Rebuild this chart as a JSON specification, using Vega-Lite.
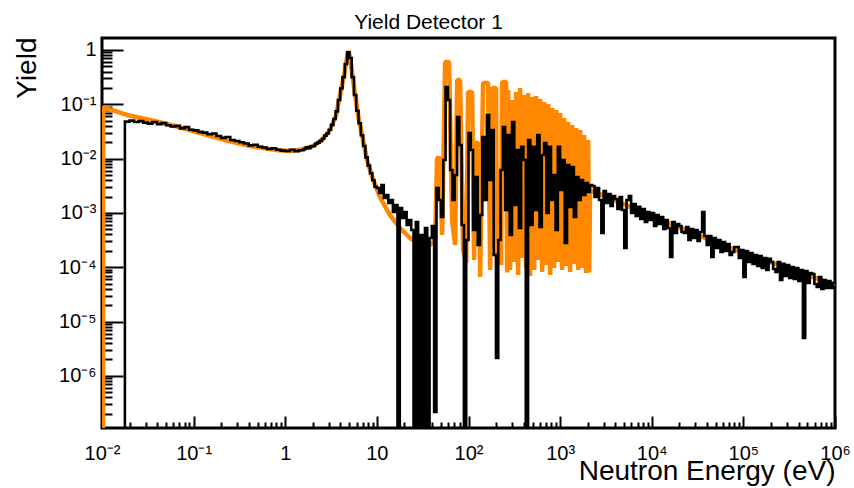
{
  "$schema": "https://vega.github.io/schema/vega-lite/v6.json",
  "autosize": {"type": "none"},
  "padding": {"left": 102, "top": 38, "right": 19, "bottom": 60},
  "width": 733,
  "height": 390,
  "background": "white",
  "title": {"text": "Yield Detector 1", "fontSize": 21, "fontWeight": "normal", "font": "Liberation Sans", "color": "black", "anchor": "middle", "dx": -40, "dy": 23, "offset": 10, "baseline": "alphabetic"},
  "config": {
    "view": {"stroke": "black", "strokeWidth": 3},
    "font": "Liberation Sans",
    "axis": {"labelFont": "Liberation Sans", "labelFontSize": 20, "labelColor": "black", "tickColor": "black", "tickWidth": 2, "domain": false, "grid": false, "labelOverlap": false, "labelFlush": false, "labelBound": false, "titleFont": "Liberation Sans", "titleFontSize": 28, "titleFontWeight": "normal", "titleColor": "black"}
  },
  "datasets": {
    "orange": [
      {"E":0.01025,"Y":1e-9},{"E":0.0103,"Y":0.089},{"E":0.01875,"Y":0.0635},{"E":0.0334,"Y":0.0514},{"E":0.0627,"Y":0.0398},{"E":0.1175,"Y":0.0295},{"E":0.22,"Y":0.0219},{"E":0.413,"Y":0.017},{"E":0.774,"Y":0.01445},{"E":1.13,"Y":0.0138},{"E":1.45,"Y":0.0145},{"E":2.01,"Y":0.017},{"E":2.52,"Y":0.0219},{"E":3.08,"Y":0.0339},{"E":3.59,"Y":0.063},{"E":3.96,"Y":0.148},{"E":4.39,"Y":0.347},{"E":4.73,"Y":0.741},{"E":4.91,"Y":0.955},{"E":5.09,"Y":0.741},{"E":5.36,"Y":0.389},{"E":5.78,"Y":0.148},{"E":6.24,"Y":0.063},{"E":6.89,"Y":0.0269},{"E":7.82,"Y":0.00933},{"E":9.1,"Y":0.00407},{"E":10.8,"Y":0.00195},{"E":13.9,"Y":0.000912},{"E":17.9,"Y":0.000525},{"E":23.0,"Y":0.000347},{"E":29.6,"Y":0.000257},{"E":38.1,"Y":0.000257},{"E":43.2,"Y":0.000317},
      {"E":45.4,"Y":0.01026},{"E":49.0,"Y":0.01026},{"E":51.5,"Y":0.000392},{"E":55.6,"Y":0.601},{"E":61.4,"Y":0.601},{"E":66.2,"Y":0.00074},{"E":71.4,"Y":0.000256},{"E":75.2,"Y":0.2805},{"E":80.9,"Y":0.2805},{"E":87.3,"Y":0.000207},{"E":94.2,"Y":0.000119},{"E":99.1,"Y":0.1686},{"E":109.4,"Y":0.1686},{"E":115.1,"Y":0.000136},{"E":118.0,"Y":0.01937},{"E":127.4,"Y":0.01937},{"E":134.0,"Y":0.000066},{"E":144.2,"Y":0.2466},{"E":163.7,"Y":0.2466},{"E":172.2,"Y":0.0000887},{"E":181.1,"Y":0.1995},{"E":200.0,"Y":0.1995},{"E":205.1,"Y":0.000136},{"E":210.4,"Y":0.00543},{"E":221.3,"Y":0.00543},{"E":227.0,"Y":0.00011},{"E":232.8,"Y":0.2576},{"E":257.0,"Y":0.2576},{"E":263.8,"Y":0.00008},
      {"E":270.5,"Y":0.1833},{"E":284.5,"Y":0.0000887},{"E":299.2,"Y":0.12},{"E":314.6,"Y":0.000125},{"E":330.9,"Y":0.1686},{"E":347.9,"Y":0.0000718},{"E":365.9,"Y":0.1995},{"E":384.8,"Y":0.000148},{"E":404.6,"Y":0.1483},{"E":425.5,"Y":0.0000966},{"E":447.5,"Y":0.1615},{"E":470.6,"Y":0.0000689},{"E":494.8,"Y":0.1362},{"E":520.4,"Y":0.0000887},{"E":547.2,"Y":0.1422},{"E":575.4,"Y":0.000136},{"E":605.2,"Y":0.1252},{"E":636.3,"Y":0.0000816},{"E":669.1,"Y":0.1102},{"E":703.7,"Y":0.00011},{"E":739.6,"Y":0.1013},{"E":777.8,"Y":0.0000718},{"E":817.9,"Y":0.0855},{"E":860.1,"Y":0.0000966},{"E":904.4,"Y":0.0785},{"E":951.0,"Y":0.000125},{"E":1000,"Y":0.0691},{"E":1051,"Y":0.0000887},{"E":1106,"Y":0.056},{"E":1163,"Y":0.000105},{"E":1223,"Y":0.0472},{"E":1286,"Y":0.0000816},{"E":1352,"Y":0.0416},{"E":1422,"Y":0.000115},{"E":1495,"Y":0.0366},{"E":1572,"Y":0.0000887},{"E":1653,"Y":0.0336},{"E":1739,"Y":0.0000966},{"E":1828,"Y":0.0272},{"E":1922,"Y":0.0000782},{"E":2022,"Y":0.022},{"E":2073,"Y":0.00008},
      {"E":2126,"Y":0.00264},{"E":3162,"Y":0.00199},{"E":10000,"Y":0.000877},{"E":31620,"Y":0.000394},{"E":66500,"Y":0.000236},{"E":100000,"Y":0.000185},{"E":316200,"Y":0.0000938},{"E":822000,"Y":0.0000533},{"E":1000000,"Y":0.0000491}
    ],
    "black": [
      {"E":0.01777,"Y":1e-9},{"E":0.01778,"Y":0.048},{"E":0.01995,"Y":0.05},{"E":0.02239,"Y":0.047},{"E":0.02512,"Y":0.049},{"E":0.02818,"Y":0.046},{"E":0.03162,"Y":0.044},{"E":0.03548,"Y":0.047},{"E":0.03981,"Y":0.043},{"E":0.04467,"Y":0.045},{"E":0.05012,"Y":0.041},{"E":0.05623,"Y":0.039},{"E":0.0631,"Y":0.04},{"E":0.07079,"Y":0.036},{"E":0.07943,"Y":0.038},{"E":0.08913,"Y":0.034},{"E":0.1,"Y":0.033},{"E":0.1122,"Y":0.031},{"E":0.1259,"Y":0.03},{"E":0.1413,"Y":0.028},{"E":0.1585,"Y":0.029},{"E":0.1778,"Y":0.026},{"E":0.1995,"Y":0.024},{"E":0.2239,"Y":0.025},{"E":0.2512,"Y":0.022},{"E":0.2818,"Y":0.021},{"E":0.3162,"Y":0.02},{"E":0.3548,"Y":0.019},{"E":0.3981,"Y":0.0175},{"E":0.4467,"Y":0.018},{"E":0.5012,"Y":0.0165},{"E":0.5623,"Y":0.016},{"E":0.631,"Y":0.015},{"E":0.7079,"Y":0.0155},{"E":0.7943,"Y":0.0145},{"E":0.8913,"Y":0.014},{"E":1.0,"Y":0.0138},{"E":1.122,"Y":0.0145},{"E":1.259,"Y":0.0137},{"E":1.413,"Y":0.0142},
      {"E":1.585,"Y":0.015},{"E":1.679,"Y":0.0162},{"E":1.778,"Y":0.0155},{"E":1.884,"Y":0.0168},{"E":1.995,"Y":0.017},{"E":2.113,"Y":0.0188},{"E":2.239,"Y":0.0197},{"E":2.371,"Y":0.0212},{"E":2.512,"Y":0.0232},{"E":2.661,"Y":0.0265},{"E":2.818,"Y":0.029},{"E":2.985,"Y":0.034},{"E":3.162,"Y":0.0417},{"E":3.35,"Y":0.0537},{"E":3.548,"Y":0.0741},{"E":3.758,"Y":0.12},{"E":3.981,"Y":0.195},{"E":4.217,"Y":0.316},{"E":4.467,"Y":0.55},{"E":4.732,"Y":0.91},{"E":5.012,"Y":0.71},{"E":5.309,"Y":0.316},{"E":5.623,"Y":0.148},{"E":5.957,"Y":0.0759},{"E":6.31,"Y":0.0447},{"E":6.683,"Y":0.0269},{"E":7.079,"Y":0.017},{"E":7.499,"Y":0.0105},{"E":7.943,"Y":0.0074},{"E":8.414,"Y":0.00537},{"E":8.913,"Y":0.00398},{"E":9.441,"Y":0.00302},
      {"E":10.0,"Y":0.00288},{"E":10.59,"Y":0.00232},{"E":11.22,"Y":0.00327},{"E":11.89,"Y":0.00188},{"E":12.59,"Y":0.00214},{"E":13.34,"Y":0.00152},{"E":14.13,"Y":0.00173},{"E":14.96,"Y":0.00104},{"E":15.85,"Y":0.0014},{"E":16.79,"Y":1e-9},{"E":17.78,"Y":0.00123},{"E":18.84,"Y":0.000805},{"E":19.95,"Y":0.00104},{"E":21.13,"Y":0.000598},{"E":22.39,"Y":0.00074},{"E":23.71,"Y":0.000484},{"E":25.12,"Y":1e-9},{"E":26.61,"Y":0.00068},{"E":28.18,"Y":1e-9},{"E":29.85,"Y":0.000392},{"E":31.62,"Y":1e-9},{"E":33.5,"Y":0.000527},{"E":35.48,"Y":1e-9},{"E":37.58,"Y":0.000345},{"E":39.81,"Y":0.000574},{"E":42.17,"Y":2.15e-7},{"E":44.67,"Y":0.00288},{"E":47.32,"Y":0.00173},{"E":50.12,"Y":0.00084},{"E":53.09,"Y":0.00942},{"E":56.23,"Y":0.208},{"E":59.57,"Y":0.12},{"E":63.1,"Y":0.00617},{"E":66.83,"Y":0.00173},{"E":70.79,"Y":0.00499},{"E":74.99,"Y":0.0584},{"E":79.43,"Y":0.0178},{"E":84.14,"Y":0.000598},{"E":89.13,"Y":1e-9},{"E":94.41,"Y":0.000317},
      {"E":100,"Y":0.0296},{"E":105.9,"Y":0.0144},{"E":112.2,"Y":0.000484},{"E":118.9,"Y":0.00458},{"E":125.9,"Y":0.000256},{"E":133.4,"Y":0.000914},{"E":141.3,"Y":0.025},{"E":149.6,"Y":0.00173},{"E":158.5,"Y":0.0635},{"E":167.9,"Y":0.00404},{"E":177.8,"Y":0.0336},{"E":188.4,"Y":0.000168},{"E":199.5,"Y":2.13e-6},{"E":211.3,"Y":0.000317},{"E":223.9,"Y":0.00617},{"E":237.1,"Y":0.0382},{"E":251.2,"Y":0.00113},{"E":266.1,"Y":0.0272},{"E":281.8,"Y":0.000392},{"E":298.5,"Y":0.0472},{"E":316.2,"Y":0.0014},{"E":335.0,"Y":0.0144},{"E":354.8,"Y":0.000527},{"E":375.8,"Y":0.0164},{"E":398.1,"Y":0.00942},{"E":421.7,"Y":1e-9},{"E":446.7,"Y":0.022},{"E":473.2,"Y":0.000598},{"E":501.2,"Y":0.0164},{"E":530.9,"Y":0.00113},{"E":562.3,"Y":0.0272},{"E":595.7,"Y":0.00055},{"E":631.0,"Y":0.01165},{"E":668.3,"Y":0.0194},{"E":707.9,"Y":0.000995},{"E":749.9,"Y":0.0164},{"E":794.3,"Y":0.00173},{"E":841.4,"Y":0.00499},{"E":891.3,"Y":0.000484},{"E":944.1,"Y":0.0164},
      {"E":1000,"Y":0.00264},{"E":1059,"Y":0.00942},{"E":1122,"Y":0.000279},{"E":1189,"Y":0.00762},{"E":1259,"Y":0.00129},{"E":1334,"Y":0.007},{"E":1413,"Y":0.00084},{"E":1496,"Y":0.00458},{"E":1585,"Y":0.00173},{"E":1679,"Y":0.00404},{"E":1778,"Y":0.00214},{"E":1884,"Y":0.00356},{"E":1995,"Y":0.00243},{"E":2113,"Y":0.00327},
      {"E":2239,"Y":0.00313},{"E":2371,"Y":0.00196},{"E":2512,"Y":0.00288},{"E":2661,"Y":0.00173},{"E":2818,"Y":0.000427},{"E":2985,"Y":0.00253},{"E":3162,"Y":0.00152},{"E":3350,"Y":0.00223},{"E":3548,"Y":0.00134},{"E":3758,"Y":0.00205},{"E":3981,"Y":0.0018},{"E":4217,"Y":0.00118},{"E":4467,"Y":0.00196},{"E":4732,"Y":0.00113},{"E":5012,"Y":0.000226},{"E":5309,"Y":0.00173},{"E":5623,"Y":0.00205},{"E":5957,"Y":0.000995},{"E":6310,"Y":0.00146},{"E":6683,"Y":0.000877},{"E":7079,"Y":0.00129},{"E":7499,"Y":0.000772},{"E":7943,"Y":0.00118},{"E":8414,"Y":0.00068},{"E":8913,"Y":0.00104},{"E":9441,"Y":0.00074},
      {"E":10000,"Y":0.000995},{"E":10590,"Y":0.000574},{"E":11220,"Y":0.000914},{"E":11890,"Y":0.000625},{"E":12590,"Y":0.00084},{"E":13340,"Y":0.000505},{"E":14130,"Y":0.00074},{"E":14960,"Y":0.000527},{"E":15850,"Y":0.000154},{"E":16790,"Y":0.00068},{"E":17780,"Y":0.000427},{"E":18840,"Y":0.000625},{"E":19950,"Y":0.000574},{"E":21130,"Y":0.000445},{"E":22390,"Y":0.000427},{"E":23710,"Y":0.00055},{"E":25120,"Y":0.000317},{"E":26610,"Y":0.000505},{"E":28180,"Y":0.000345},{"E":29850,"Y":0.000484},{"E":31620,"Y":0.000304},{"E":33500,"Y":0.000445},{"E":35480,"Y":0.00104},{"E":37580,"Y":0.000376},{"E":39810,"Y":0.000256},{"E":42170,"Y":0.000376},{"E":44670,"Y":0.000154},{"E":47320,"Y":0.000345},{"E":50120,"Y":0.000226},{"E":53090,"Y":0.000317},{"E":56230,"Y":0.000191},{"E":59570,"Y":0.000291},{"E":63100,"Y":0.000199},{"E":66830,"Y":0.000267},{"E":70790,"Y":0.000168},{"E":74990,"Y":0.000191},{"E":79430,"Y":0.000235},{"E":84140,"Y":0.000235},{"E":89130,"Y":0.000148},{"E":94410,"Y":0.000207},
      {"E":100000,"Y":0.000066},{"E":105900,"Y":0.000199},{"E":112200,"Y":0.000125},{"E":118900,"Y":0.000183},{"E":125900,"Y":0.000115},{"E":133400,"Y":0.000168},{"E":141300,"Y":0.000105},{"E":149600,"Y":0.000161},{"E":158500,"Y":0.0000966},{"E":167900,"Y":0.000148},{"E":177800,"Y":0.0000887},{"E":188400,"Y":0.000142},{"E":199500,"Y":0.000125},{"E":211300,"Y":0.0000927},{"E":223900,"Y":0.0000816},{"E":237100,"Y":0.000125},{"E":251200,"Y":0.0000581},{"E":266100,"Y":0.000115},{"E":281800,"Y":0.0000689},{"E":298500,"Y":0.00011},{"E":316200,"Y":0.0000633},{"E":335000,"Y":0.000101},{"E":354800,"Y":0.0000607},{"E":375800,"Y":0.0000966},{"E":398100,"Y":0.0000557},{"E":421700,"Y":0.0000887},{"E":446700,"Y":0.00000497},{"E":473200,"Y":0.0000851},{"E":501200,"Y":0.0000512},{"E":530900,"Y":0.0000782},{"E":562300,"Y":0.000075},{"E":595700,"Y":0.0000491},{"E":631000,"Y":0.0000432},{"E":668300,"Y":0.000066},{"E":707900,"Y":0.0000397},{"E":749900,"Y":0.0000581},{"E":794300,"Y":0.0000414},{"E":841400,"Y":0.0000557},{"E":891300,"Y":0.0000414},{"E":944100,"Y":0.0000512},{"E":1000000,"Y":0.0000512}
    ]
  },
  "encoding": {
    "x": {
      "field": "E", "type": "quantitative",
      "scale": {"type": "log", "domain": [0.01, 1000000], "nice": false, "zero": false},
      "axis": {
        "title": "Neutron Energy (eV)",
        "titleX": 733, "titleY": 51, "titleAlign": "right", "titleBaseline": "alphabetic", "titleAnchor": "end",
        "values": [0.01,0.02,0.03,0.04,0.05,0.06,0.07,0.08,0.09,0.1,0.2,0.3,0.4,0.5,0.6,0.7,0.8,0.9,1,2,3,4,5,6,7,8,9,10,20,30,40,50,60,70,80,90,100,200,300,400,500,600,700,800,900,1000,2000,3000,4000,5000,6000,7000,8000,9000,10000,20000,30000,40000,50000,60000,70000,80000,90000,100000,200000,300000,400000,500000,600000,700000,800000,900000,1000000],
        "tickSize": {"condition": {"test": "indexof([0.01,0.1,1,10,100,1000,10000,100000,1000000], datum.value) >= 0", "value": -12}, "value": -6},
        "labelPadding": 43,
        "labelBaseline": "alphabetic",
        "labelExpr": "datum.value == 0.01 ? '10⁻²' : datum.value == 0.1 ? '10⁻¹' : datum.value == 1 ? '1' : datum.value == 10 ? '10' : datum.value == 100 ? '10²' : datum.value == 1000 ? '10³' : datum.value == 10000 ? '10⁴' : datum.value == 100000 ? '10⁵' : datum.value == 1000000 ? '10⁶' : ''"
      }
    },
    "y": {
      "field": "Y", "type": "quantitative",
      "scale": {"type": "log", "domain": [1.094e-7, 1.66], "nice": false, "zero": false},
      "axis": {
        "title": "Yield",
        "titleX": -67, "titleY": -1, "titleAlign": "right", "titleBaseline": "alphabetic", "titleAngle": 270,
        "values": [2e-7,3e-7,4e-7,5e-7,6e-7,7e-7,8e-7,9e-7,1e-6,2e-6,3e-6,4e-6,5e-6,6e-6,7e-6,8e-6,9e-6,1e-5,2e-5,3e-5,4e-5,5e-5,6e-5,7e-5,8e-5,9e-5,1e-4,2e-4,3e-4,4e-4,5e-4,6e-4,7e-4,8e-4,9e-4,0.001,0.002,0.003,0.004,0.005,0.006,0.007,0.008,0.009,0.01,0.02,0.03,0.04,0.05,0.06,0.07,0.08,0.09,0.1,0.2,0.3,0.4,0.5,0.6,0.7,0.8,0.9,1],
        "tickSize": {"condition": {"test": "indexof([1e-6,1e-5,1e-4,0.001,0.01,0.1,1], datum.value) >= 0", "value": -21}, "value": -10},
        "labelPadding": 27,
        "labelExpr": "datum.value == 1 ? '1' : datum.value == 0.1 ? '10⁻¹' : datum.value == 0.01 ? '10⁻²' : datum.value == 0.001 ? '10⁻³' : datum.value == 1e-4 ? '10⁻⁴' : datum.value == 1e-5 ? '10⁻⁵' : datum.value == 1e-6 ? '10⁻⁶' : ''"
      }
    }
  },
  "layer": [
    {"data": {"name": "orange"}, "mark": {"type": "line", "clip": true, "color": "#ff8800", "strokeWidth": 4.5, "strokeJoin": "bevel", "interpolate": "linear"}},
    {"data": {"name": "black"}, "mark": {"type": "line", "clip": true, "color": "black", "strokeWidth": 2.6, "strokeJoin": "miter", "interpolate": "step-after"}}
  ]
}
